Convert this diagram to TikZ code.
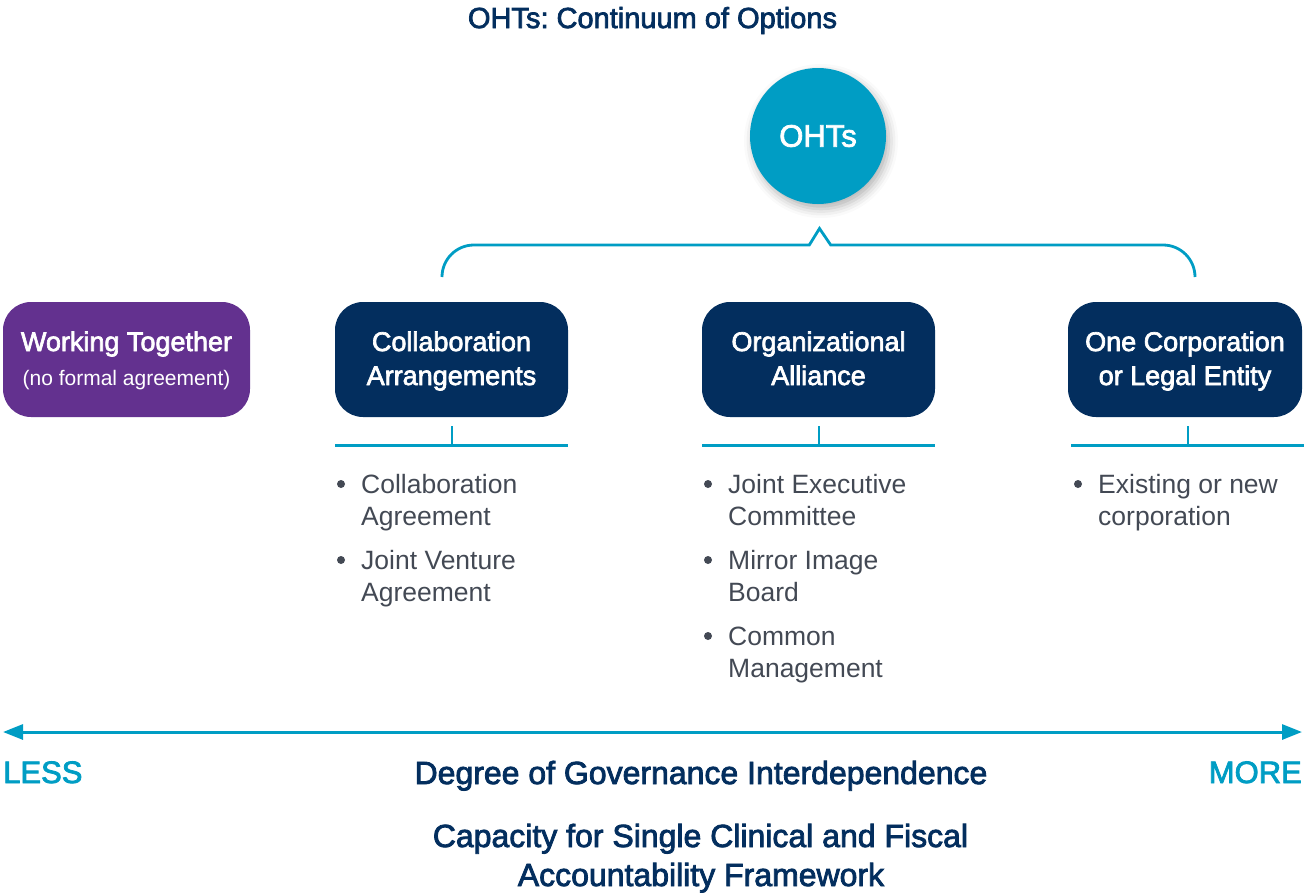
\documentclass[tikz,border=0pt]{standalone}
\usepackage{fontspec}
\setmainfont{Liberation Sans}
\newfontfamily\medfont[FakeBold=2.5]{Liberation Sans}
\usetikzlibrary{arrows.meta,shadows.blur}
\definecolor{ohtnavy}{HTML}{032E5E}
\definecolor{ohtpurple}{HTML}{63318F}
\definecolor{ohtteal}{HTML}{009DC4}
\definecolor{ohtgray}{HTML}{434954}
\frenchspacing
\tikzset{
  optbox/.style={rounded corners=28pt, minimum width=233pt, minimum height=115pt, inner sep=0pt, draw=none},
  boxtxt/.style={anchor=base, text=white, font=\medfont\fontsize{27}{34}\selectfont, inner sep=0pt},
  itemtxt/.style={anchor=base west, text=ohtgray, font=\fontsize{26.5}{32}\selectfont, inner sep=0pt},
  bul/.style={circle, fill=ohtgray, minimum size=8pt, inner sep=0pt},
  tline/.style={draw=ohtteal, line width=2.6pt},
  head/.style={anchor=base, text=ohtnavy, font=\medfont\fontsize{32}{40}\selectfont, inner sep=0pt},
  endlbl/.style={text=ohtteal, font=\medfont\fontsize{31}{38}\selectfont, inner sep=0pt},
}
\begin{document}
\begin{tikzpicture}[x=1pt,y=-1pt]
\useasboundingbox (0,0) rectangle (1304,892);

% title
\node[anchor=base, text=ohtnavy, font=\medfont\fontsize{29}{34}\selectfont, inner sep=0pt] (title) at (652.5,28) {OHTs: Continuum of Options};

% OHTs circle
\node[circle, fill=ohtteal, minimum size=136pt, inner sep=0pt, text=white,
      font=\medfont\fontsize{31}{36}\selectfont,
      blur shadow={shadow xshift=3pt, shadow yshift=-5pt, shadow blur radius=9pt, shadow opacity=30}] (oht) at (818,136) {OHTs};

% bracket
\coordinate (bl) at (442,277);
\coordinate (br) at (1195,277);
\coordinate (pk) at (819.5,228.5);
\draw[tline, line width=2.8pt, line join=miter] (bl) .. controls (442,259.3) and (456.3,245) .. (474,245)
  -- (809.3,245) -- (pk) -- (830.7,245) -- (1163,245)
  .. controls (1180.7,245) and (1195,259.3) .. (br);

% boxes
\node[optbox, fill=ohtpurple, minimum width=247pt] (wt) at (126.5,359.5) {};
\node[boxtxt] (wt1) at (126.5,351) {Working Together};
\node[anchor=base, text=white, font=\fontsize{21}{26}\selectfont, inner sep=0pt] (wt2) at (126.5,385) {(no formal agreement)};

\node[optbox, fill=ohtnavy] (ca) at (451.5,359.5) {};
\node[boxtxt] (ca1) at (451.5,351) {Collaboration};
\node[boxtxt] (ca2) at (451.5,385) {Arrangements};

\node[optbox, fill=ohtnavy] (oa) at (818.5,359.5) {};
\node[boxtxt] (oa1) at (818.5,351) {Organizational};
\node[boxtxt] (oa2) at (818.5,385) {Alliance};

\node[optbox, fill=ohtnavy, minimum width=234pt] (oc) at (1185,359.5) {};
\node[boxtxt] (oc1) at (1185,351) {One Corporation};
\node[boxtxt] (oc2) at (1185,385) {or Legal Entity};

% underlines with ticks
\coordinate (cal) at (335,445.5);  \coordinate (car) at (568,445.5);  \coordinate (catk) at (452,426);
\coordinate (oal) at (702,445.5);  \coordinate (oar) at (935,445.5);  \coordinate (oatk) at (819,426);
\coordinate (ocl) at (1071,445.5); \coordinate (ocr) at (1304,445.5); \coordinate (octk) at (1188,426);
\draw[tline] (cal) -- (car);  \draw[tline] (catk) -- (catk |- cal);
\draw[tline] (oal) -- (oar);  \draw[tline] (oatk) -- (oatk |- oal);
\draw[tline] (ocl) -- (ocr);  \draw[tline] (octk) -- (octk |- ocl);

% bullet lists
\node[bul] (cb1) at (341,484) {};
\node[itemtxt] (ci1a) at (361,493) {Collaboration};
\node[itemtxt] (ci1b) at (361,525) {Agreement};
\node[bul] (cb2) at (341,560) {};
\node[itemtxt] (ci2a) at (361,569) {Joint Venture};
\node[itemtxt] (ci2b) at (361,601) {Agreement};

\node[bul] (ob1) at (708,484) {};
\node[itemtxt] (oi1a) at (728,493) {Joint Executive};
\node[itemtxt] (oi1b) at (728,525) {Committee};
\node[bul] (ob2) at (708,560) {};
\node[itemtxt] (oi2a) at (728,569) {Mirror Image};
\node[itemtxt] (oi2b) at (728,601) {Board};
\node[bul] (ob3) at (708,636) {};
\node[itemtxt] (oi3a) at (728,645) {Common};
\node[itemtxt] (oi3b) at (728,677) {Management};

\node[bul] (xb1) at (1078,484) {};
\node[itemtxt] (xi1a) at (1098,493) {Existing or new};
\node[itemtxt] (xi1b) at (1098,525) {corporation};

% continuum arrow
\coordinate (al) at (3,732);
\coordinate (ar) at (1302,732);
\draw[draw=ohtteal, line width=3pt, {Triangle[length=20pt,width=15pt]}-{Triangle[length=20pt,width=15pt]}] (al) -- (ar);

\node[endlbl, anchor=base west] (less) at (3,783) {LESS};
\node[endlbl, anchor=base east] (more) at (1302,783) {MORE};

\node[head] (deg) at (701,784) {Degree of Governance Interdependence};
\node[head] (cap1) at (700.5,847) {Capacity for Single Clinical and Fiscal};
\node[head] (cap2) at (701,886) {Accountability Framework};
\end{tikzpicture}
\end{document}
